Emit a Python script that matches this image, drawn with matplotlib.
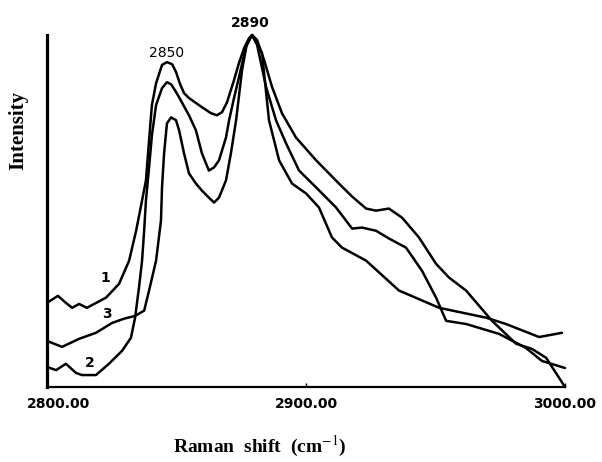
import matplotlib
matplotlib.use("Agg")
import matplotlib.pyplot as plt
import matplotlib.transforms as mtransforms

# Raman spectra (arbitrary intensity, peak = 100)
# curve 1: highest baseline on the left
wn_1 = [2800.0, 2804.2, 2807.3, 2809.7, 2812.4, 2815.4, 2822.8, 2827.8, 2831.7, 2834.4,
        2836.7, 2838.2, 2839.4, 2840.5, 2842.1, 2844.4, 2846.3, 2848.3, 2849.8, 2851.4,
        2852.9, 2854.8, 2859.8, 2863.3, 2865.6, 2867.6, 2869.5, 2872.2, 2874.1, 2876.1,
        2878.0, 2879.2, 2881.1, 2883.8, 2886.9, 2890.7, 2896.1, 2903.9, 2912.7, 2917.8,
        2923.2, 2927.0, 2932.0, 2937.1, 2943.6, 2950.2, 2955.2, 2961.8, 2971.8, 2981.1,
        2987.3, 2992.7, 3000.0]
int_1 = [23.9, 25.9, 23.9, 22.5, 23.6, 22.5, 25.4, 29.3, 35.9, 44.4,
         53.0, 58.7, 70.1, 80.1, 86.3, 91.5, 92.3, 91.7, 89.5, 86.0,
         83.5, 82.1, 79.5, 77.8, 77.2, 78.1, 80.9, 87.2, 92.0, 96.3,
         99.1, 100.0, 98.6, 92.9, 85.2, 77.8, 70.9, 64.4, 57.8, 54.1,
         50.7, 50.1, 50.7, 48.1, 42.5, 35.0, 31.1, 27.4, 18.8, 12.3,
         10.8, 8.3, 0.0]

# curve 2: lowest baseline on the left
wn_2 = [2800.0, 2803.5, 2807.3, 2811.2, 2813.5, 2818.9, 2823.9, 2829.0, 2832.4, 2834.0,
        2835.5, 2836.7, 2837.5, 2838.2, 2839.4, 2840.5, 2842.1, 2844.4, 2846.3, 2847.9,
        2849.4, 2851.0, 2854.8, 2857.5, 2859.8, 2862.5, 2864.5, 2866.4, 2869.1, 2870.3,
        2872.2, 2874.1, 2876.8, 2879.2, 2881.1, 2884.6, 2888.4, 2892.3, 2897.3, 2903.9,
        2911.6, 2917.8, 2921.6, 2927.0, 2932.0, 2938.6, 2944.8, 2950.2, 2954.1, 2961.8,
        2974.5, 2984.9, 2991.1, 3000.0]
int_2 = [5.7, 4.8, 6.6, 4.0, 3.4, 3.4, 6.6, 10.3, 14.0, 19.7,
         28.2, 35.9, 44.4, 53.0, 62.4, 71.5, 80.1, 84.9, 86.6, 86.0,
         84.3, 82.3, 77.2, 72.9, 66.4, 61.5, 62.4, 64.4, 70.9, 75.8,
         82.1, 88.0, 96.6, 100.0, 97.2, 85.2, 75.8, 69.2, 61.5, 56.7,
         51.0, 45.0, 45.3, 44.4, 42.2, 39.6, 33.0, 25.4, 18.8, 17.9,
         15.1, 11.1, 7.4, 5.4]

# curve 3: middle baseline on the left
wn_3 = [2800.0, 2805.8, 2812.4, 2818.9, 2825.1, 2829.7, 2834.0, 2837.5, 2839.4, 2842.1,
        2844.0, 2844.4, 2845.2, 2846.3, 2847.9, 2849.8, 2851.0, 2852.9, 2854.8, 2857.5,
        2859.8, 2862.5, 2864.5, 2866.4, 2869.1, 2871.0, 2873.0, 2875.3, 2877.2, 2879.2,
        2883.0, 2885.7, 2889.6, 2894.6, 2900.0, 2905.0, 2910.0, 2913.9, 2923.2, 2935.9,
        2951.4, 2969.5, 2977.2, 2990.0, 2998.8]
int_3 = [13.1, 11.4, 13.7, 15.4, 18.2, 19.4, 20.2, 21.7, 27.4, 35.9,
         47.3, 56.7, 66.4, 74.9, 76.6, 75.8, 72.9, 66.4, 60.7, 57.8,
         55.8, 53.8, 52.4, 53.8, 58.7, 66.4, 75.8, 90.0, 97.7, 100.0,
         94.9, 75.8, 64.4, 57.8, 55.0, 51.0, 42.5, 39.6, 35.9, 27.4,
         22.5, 19.7, 17.9, 14.2, 15.4]

curve_labels = ["1", "2", "3"]
label_pos_x = [2822.4, 2816.6, 2823.2]
label_pos_y = [31.1, 6.8, 20.8]

peak_labels = ["2850", "2890"]
tick_vals = [2800, 2900, 3000]
tick_text = ["2800.00", "2900.00", "3000.00"]

plt.rcParams["mathtext.fontset"] = "stix"

fig = plt.figure(figsize=(6.02, 4.62), dpi=100)
ax = fig.add_axes([0.0781, 0.1623, 0.8605, 0.7619])

for wn, inten in [(wn_1, int_1), (wn_2, int_2), (wn_3, int_3)]:
    ax.plot(wn, inten, color="black", lw=1.8, clip_on=False,
            solid_joinstyle="round", solid_capstyle="round")

ax.set_xlim(2800, 3000)
ax.set_ylim(0, 100)

ax.spines["top"].set_visible(False)
ax.spines["right"].set_visible(False)
ax.spines["left"].set_linewidth(2.3)
ax.spines["bottom"].set_linewidth(1.6)

ax.set_yticks([])
ax.set_xticks(tick_vals)
ax.set_xticklabels(tick_text, fontsize=10, fontweight="bold", family="DejaVu Sans")
ax.tick_params(axis="x", direction="in", length=3, width=1, pad=7)
# the first label sits a little right of the corner in the scan
first = ax.get_xticklabels()[0]
first.set_transform(first.get_transform() +
                    mtransforms.ScaledTranslation(11 / 100, 0, fig.dpi_scale_trans))

# curve numbers
for lab, lx, ly in zip(curve_labels, label_pos_x, label_pos_y):
    ax.text(lx, ly, lab, fontsize=10, fontweight="bold", ha="center", va="center")

# peak positions
ax.text(2846.3, 95.0, peak_labels[0], fontsize=10, ha="center", va="center")
ax.text(2878.4, 103.4, peak_labels[1], fontsize=10, fontweight="bold",
        ha="center", va="center", clip_on=False)

fig.text(18.5 / 602, 1 - 130 / 462, "Intensity", rotation=90, ha="center", va="center",
         fontsize=15, fontweight="bold", family="Liberation Serif")
fig.text(260 / 602, 1 - 446 / 462, "Raman  shift  (cm$^{-1}$)", ha="center", va="center",
         fontsize=14, fontweight="bold", family="Liberation Serif")

fig.savefig("out.png", dpi=100)
